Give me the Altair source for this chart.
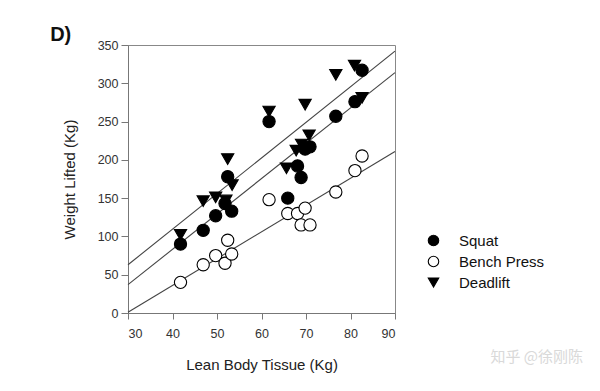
import altair as alt
import pandas as pd

# Data
lean = [41.8, 46.9, 49.7, 51.8, 52.4, 53.3, 61.7, 65.9, 68.1, 68.9, 69.8, 70.9, 76.7, 81.0, 82.6]
squat = [90, 108, 127, 143, 178, 133, 250, 150, 192, 177, 214, 217, 257, 276, 317]
bench = [40, 63, 75, 65, 95, 77, 148, 130, 130, 115, 137, 115, 158, 186, 205]
lean_dl = [41.8, 46.9, 49.7, 52.0, 52.4, 53.4, 61.7, 65.6, 67.8, 69.0, 69.8, 70.7, 76.7, 80.9, 82.6]
deadlift = [102, 146, 151, 147, 201, 167, 263, 189, 212, 220, 272, 232, 311, 323, 281]

fit_x = [30, 90]
fit_squat = [37, 314]
fit_bench = [1, 211]
fit_deadlift = [63, 342]

series = ["Squat", "Bench Press", "Deadlift"]

rows = []
for x, y in zip(lean, squat):
    rows.append({"lean": x, "weight": y, "lift": "Squat"})
for x, y in zip(lean, bench):
    rows.append({"lean": x, "weight": y, "lift": "Bench Press"})
for x, y in zip(lean_dl, deadlift):
    rows.append({"lean": x, "weight": y, "lift": "Deadlift"})
pts = pd.DataFrame(rows)

fit_rows = []
for name, ys in zip(series, [fit_squat, fit_bench, fit_deadlift]):
    for x, y in zip(fit_x, ys):
        fit_rows.append({"lean": x, "weight": y, "lift": name})
fits = pd.DataFrame(fit_rows)

FONT = "Liberation Sans"

xscale = alt.Scale(domain=[30, 90], nice=False, zero=False)
yscale = alt.Scale(domain=[0, 350], nice=False)

xenc = alt.X("lean:Q", scale=xscale,
             axis=alt.Axis(title="Lean Body Tissue (Kg)", values=[30, 40, 50, 60, 70, 80, 90],
                           grid=False, tickSize=6, labelPadding=8, titlePadding=18))
yenc = alt.Y("weight:Q", scale=yscale,
             axis=alt.Axis(title="Weight Lifted (Kg)", values=[0, 50, 100, 150, 200, 250, 300, 350],
                           grid=False, tickSize=7, labelPadding=3, titlePadding=20))

lines = alt.Chart(fits).mark_line(color="#444444", strokeWidth=1.1).encode(
    x=xenc, y=yenc, detail="lift:N"
)

points = alt.Chart(pts).mark_point(filled=False, opacity=1, size=150, strokeWidth=1.1).encode(
    x=xenc, y=yenc,
    shape=alt.Shape("lift:N", scale=alt.Scale(domain=series, range=["circle", "circle", "triangle-down"]),
                    legend=alt.Legend(title=None)),
    fill=alt.Fill("lift:N", scale=alt.Scale(domain=series, range=["#000000", "#ffffff", "#000000"]),
                  legend=alt.Legend(title=None)),
    stroke=alt.value("#000000"),
)

watermark = alt.Chart(pd.DataFrame({"t": ["知乎 @徐刚陈"]})).mark_text(
    font="Noto Sans CJK SC", fontSize=15, color="#d9d9d9", align="right", baseline="middle"
).encode(text="t:N", x=alt.value(455), y=alt.value(312))

chart = alt.layer(lines, points, watermark).properties(
    width=267, height=268,
    autosize=alt.AutoSizeParams(type="none"),
    padding={"left": 120, "top": 37, "right": 190, "bottom": 60},
    title=alt.TitleParams("D)", anchor="start", dx=-12, dy=10, fontSize=20, fontWeight="bold",
                          font=FONT, color="#111111", offset=4),
).configure_view(stroke="#888888", strokeWidth=1).configure_axis(
    domainColor="#777777", tickColor="#777777", labelColor="#333333", titleColor="#222222",
    labelFont=FONT, titleFont=FONT, labelFontSize=12.5, titleFontSize=15, titleFontWeight="normal"
).configure_legend(
    orient="none", legendX=292, legendY=182, labelFont=FONT, labelFontSize=15, labelColor="#111111",
    rowPadding=5, symbolSize=110, labelOffset=18, symbolStrokeWidth=1.1,
    fillColor="#ffffff", padding=6
)

chart.save("out.html", embed_options={"renderer": "svg", "actions": False})
